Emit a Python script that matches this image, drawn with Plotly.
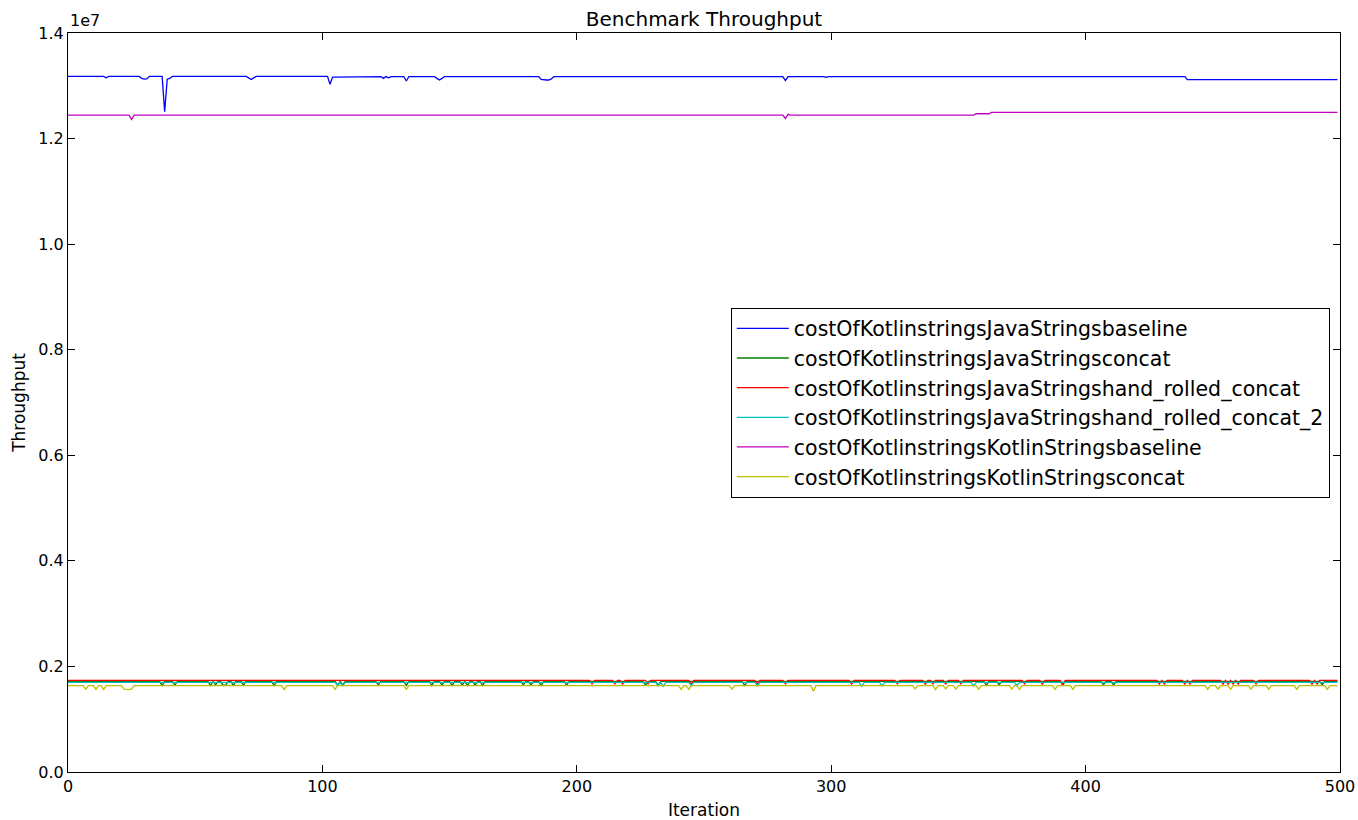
import plotly.graph_objects as go

N_ITER = 500
iterations = list(range(N_ITER))

series_names = [
    "costOfKotlinstringsJavaStringsbaseline",
    "costOfKotlinstringsJavaStringsconcat",
    "costOfKotlinstringsJavaStringshand_rolled_concat",
    "costOfKotlinstringsJavaStringshand_rolled_concat_2",
    "costOfKotlinstringsKotlinStringsbaseline",
    "costOfKotlinstringsKotlinStringsconcat",
]
series_colors = ["#0000ff", "#008000", "#ff0000", "#00bfbf", "#bf00bf", "#bfbf00"]

# level segments: (first iteration, throughput)
blue_levels = [(0, 13.178e6), (104, 13.165e6), (123, 13.175e6), (440, 13.115e6)]
blue_dips = {15: 13.15e6, 29: 13.14e6, 30: 13.125e6, 31: 13.13e6, 38: 12.51e6,
             39: 13.125e6, 40: 13.14e6, 71: 13.15e6, 72: 13.12e6, 73: 13.15e6,
             103: 13.03e6, 124: 13.14e6, 126: 13.15e6, 133: 13.09e6,
             145: 13.14e6, 146: 13.11e6, 147: 13.14e6,
             186: 13.12e6, 187: 13.11e6, 188: 13.11e6, 189: 13.11e6, 190: 13.13e6,
             282: 13.10e6, 298: 13.16e6}

green_levels = [(0, 1.715e6)]
green_dips = {37: 1.64e6, 42: 1.645e6, 56: 1.64e6, 58: 1.65e6, 61: 1.64e6, 62: 1.65e6,
              65: 1.64e6, 69: 1.645e6, 81: 1.64e6, 106: 1.645e6, 108: 1.65e6,
              122: 1.65e6, 133: 1.64e6, 143: 1.64e6, 147: 1.645e6, 151: 1.64e6,
              155: 1.645e6, 157: 1.64e6, 160: 1.645e6, 163: 1.64e6, 179: 1.65e6,
              182: 1.65e6, 186: 1.64e6, 196: 1.645e6, 227: 1.65e6, 232: 1.645e6,
              266: 1.64e6, 361: 1.645e6, 366: 1.65e6, 391: 1.645e6, 407: 1.65e6,
              411: 1.645e6, 493: 1.65e6}

red_levels = [(0, 1.735e6)]
red_dips = {206: 1.67e6, 215: 1.67e6, 218: 1.665e6, 228: 1.67e6, 245: 1.665e6,
            271: 1.67e6, 282: 1.67e6, 308: 1.665e6, 326: 1.67e6, 337: 1.665e6,
            340: 1.67e6, 345: 1.665e6, 351: 1.67e6, 376: 1.67e6, 383: 1.665e6,
            391: 1.665e6, 429: 1.665e6, 431: 1.665e6, 439: 1.665e6, 441: 1.665e6,
            454: 1.665e6, 456: 1.665e6, 458: 1.665e6, 460: 1.665e6, 467: 1.67e6,
            489: 1.665e6, 491: 1.665e6}

cyan_levels = [(0, 1.697e6)]
cyan_dips = {106: 1.63e6, 108: 1.635e6, 232: 1.63e6, 234: 1.625e6, 245: 1.63e6,
             271: 1.63e6, 312: 1.625e6, 320: 1.63e6, 356: 1.63e6, 373: 1.635e6}

magenta_levels = [(0, 12.443e6), (357, 12.47e6), (363, 12.495e6)]
magenta_dips = {25: 12.36e6, 282: 12.38e6, 283: 12.46e6, 417: 12.485e6}

yellow_levels = [(0, 1.635e6)]
yellow_dips = {7: 1.565e6, 11: 1.565e6, 14: 1.56e6, 22: 1.57e6, 23: 1.56e6, 24: 1.56e6,
               25: 1.575e6, 85: 1.56e6, 105: 1.565e6, 133: 1.565e6, 241: 1.565e6,
               244: 1.565e6, 261: 1.57e6, 293: 1.53e6, 333: 1.575e6, 341: 1.56e6,
               345: 1.575e6, 349: 1.57e6, 358: 1.565e6, 371: 1.57e6, 374: 1.565e6,
               388: 1.565e6, 395: 1.565e6, 448: 1.565e6, 452: 1.57e6, 457: 1.565e6,
               465: 1.57e6, 472: 1.565e6, 483: 1.565e6, 495: 1.565e6}

y_tick_vals = [0, 2e6, 4e6, 6e6, 8e6, 10e6, 12e6, 14e6]
y_tick_text = ["0.0", "0.2", "0.4", "0.6", "0.8", "1.0", "1.2", "1.4"]
x_tick_vals = [0, 100, 200, 300, 400, 500]


def build(levels, dips):
    out = []
    for i in iterations:
        v = levels[0][1]
        for start, lvl in levels:
            if i >= start:
                v = lvl
        out.append(dips.get(i, v))
    return out


series_data = [
    build(blue_levels, blue_dips),
    build(green_levels, green_dips),
    build(red_levels, red_dips),
    build(cyan_levels, cyan_dips),
    build(magenta_levels, magenta_dips),
    build(yellow_levels, yellow_dips),
]

FONT = "DejaVu Sans"
fig = go.Figure()
for name, color, ys in zip(series_names, series_colors, series_data):
    fig.add_trace(go.Scatter(x=iterations, y=ys, mode="lines", name=name,
                             line=dict(color=color, width=1.3)))

axis_common = dict(showline=True, linecolor="black", linewidth=1, mirror="ticks",
                   ticks="inside", ticklen=7, tickcolor="black", showgrid=False,
                   zeroline=False, automargin=False,
                   tickfont=dict(family=FONT, size=16, color="black"))

fig.update_layout(
    width=1358, height=820,
    margin=dict(l=68, r=18, t=33, b=48),
    paper_bgcolor="white", plot_bgcolor="white",
    font=dict(family=FONT, color="black"),
    title=dict(text="Benchmark Throughput", x=0.5, xref="paper", xanchor="center",
               y=1 - 19 / 820, yref="container", yanchor="middle",
               font=dict(family=FONT, size=20, color="black")),
    xaxis=dict(range=[0, 500], tickvals=x_tick_vals,
               title=dict(text="Iteration", font=dict(family=FONT, size=17), standoff=9),
               **axis_common),
    yaxis=dict(range=[0, 1.4e7], tickvals=y_tick_vals, ticktext=y_tick_text,
               title=dict(text="Throughput", font=dict(family=FONT, size=17), standoff=8),
               **axis_common),
    legend=dict(x=0.992, xanchor="right", y=0.5, yanchor="middle",
                bordercolor="black", borderwidth=1, bgcolor="white",
                itemwidth=52,
                font=dict(family=FONT, size=20.5, color="black")),
    showlegend=True,
)
fig.add_annotation(text="1e7", xref="paper", yref="paper", x=0, y=1, xanchor="left",
                   yanchor="bottom", showarrow=False, yshift=1,
                   font=dict(family=FONT, size=16, color="black"))

fig.write_html("out.html")
